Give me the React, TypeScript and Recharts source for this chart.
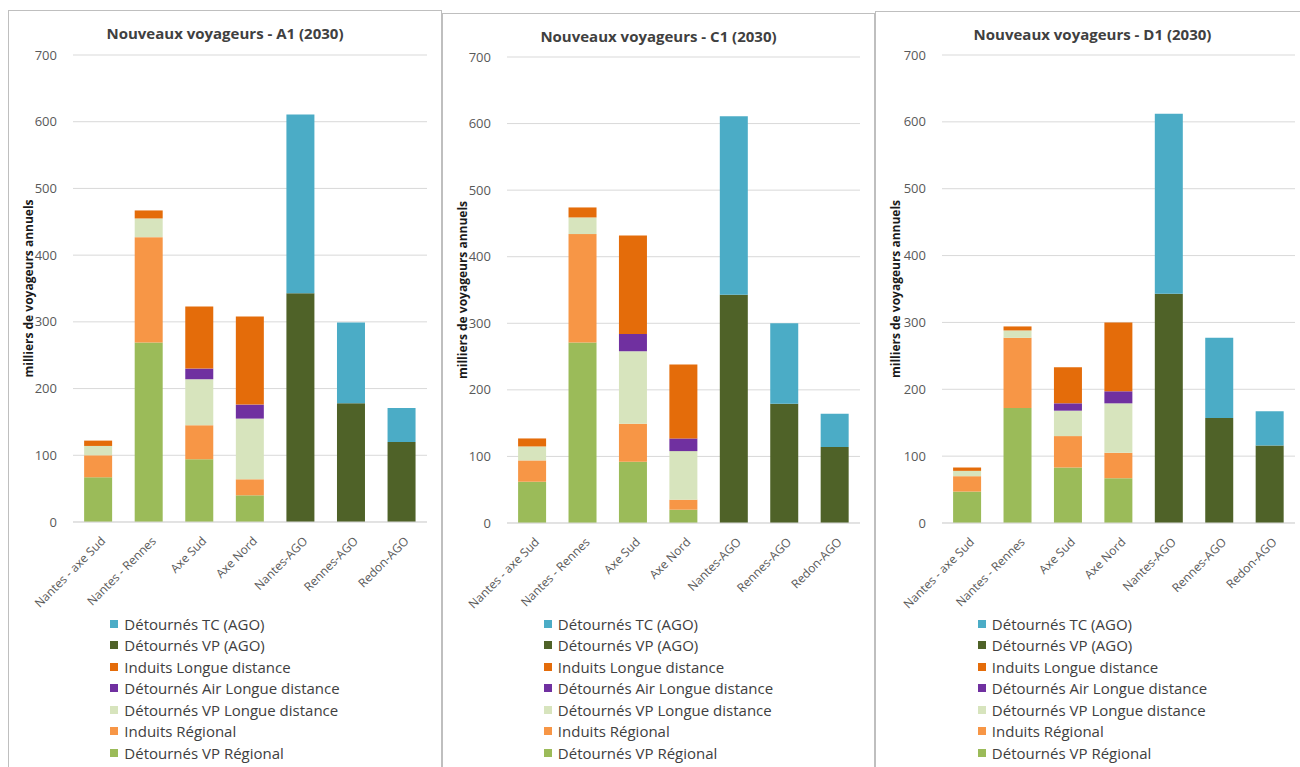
import React from 'react';
import { BarChart, Bar, XAxis, YAxis, CartesianGrid, Legend } from 'recharts';

const categories = ['Nantes - axe Sud', 'Nantes - Rennes', 'Axe Sud', 'Axe Nord', 'Nantes-AGO', 'Rennes-AGO', 'Redon-AGO'];

// stacking order, bottom to top
const seriesNames = [
  'Détournés VP Régional',
  'Induits Régional',
  'Détournés VP Longue distance',
  'Détournés Air Longue distance',
  'Induits Longue distance',
  'Détournés VP (AGO)',
  'Détournés TC (AGO)',
];
const seriesColors = ['#9BBB59', '#F79646', '#D7E4BD', '#7030A0', '#E46C0A', '#4F6228', '#4BACC6'];

const yTicks = [0, 100, 200, 300, 400, 500, 600, 700];

// rows follow seriesNames, columns follow categories (milliers de voyageurs)
const valuesA1 = [
  [67, 269, 94, 40, 0, 0, 0],
  [33, 158, 51, 24, 0, 0, 0],
  [14, 28, 69, 91, 0, 0, 0],
  [0, 0, 16, 21, 0, 0, 0],
  [8, 12, 93, 132, 0, 0, 0],
  [0, 0, 0, 0, 343, 178, 120],
  [0, 0, 0, 0, 268, 121, 51],
];
const valuesC1 = [
  [62, 271, 92, 20, 0, 0, 0],
  [32, 163, 57, 15, 0, 0, 0],
  [21, 25, 109, 73, 0, 0, 0],
  [0, 0, 26, 19, 0, 0, 0],
  [12, 15, 148, 111, 0, 0, 0],
  [0, 0, 0, 0, 343, 179, 114],
  [0, 0, 0, 0, 268, 121, 50],
];
const valuesD1 = [
  [47, 172, 83, 67, 0, 0, 0],
  [23, 105, 47, 38, 0, 0, 0],
  [8, 11, 38, 74, 0, 0, 0],
  [0, 0, 11, 18, 0, 0, 0],
  [5, 6, 54, 103, 0, 0, 0],
  [0, 0, 0, 0, 343, 157, 116],
  [0, 0, 0, 0, 269, 120, 51],
];

const FONT = '"Open Sans", sans-serif';
const PAGE_H = 767;
const LEGEND_Y = 612; // first legend row top, page coords
const LEGEND_ROW = 21.5;

const panels = [
  { title: 'Nouveaux voyageurs - A1 (2030)', values: valuesA1, left: 8, top: 10, width: 434, plotTop: 55, plotBottom: 522, plotLeft: 73, plotRight: 427 },
  { title: 'Nouveaux voyageurs - C1 (2030)', values: valuesC1, left: 442, top: 13, width: 433, plotTop: 57, plotBottom: 523, plotLeft: 507, plotRight: 860 },
  { title: 'Nouveaux voyageurs - D1 (2030)', values: valuesD1, left: 875, top: 11, width: 435, plotTop: 55, plotBottom: 523, plotLeft: 942, plotRight: 1295 },
];

const buildData = (values: number[][]) =>
  categories.map((name, i) => {
    const row: Record<string, string | number> = { name };
    values.forEach((serie, k) => {
      row['s' + k] = serie[i];
    });
    return row;
  });

const XTick = (props: any) => {
  const { x, y, payload } = props;
  return (
    <g transform={`translate(${x + 5},${y + 9})`}>
      <text x={0} y={0} dy={4} textAnchor="end" transform="rotate(-45)" fill="#595959" fontSize={12} fontFamily={FONT}>
        {payload.value}
      </text>
    </g>
  );
};

const YLabel = (props: any) => {
  const { viewBox } = props;
  const cx = viewBox.x + 25;
  const cy = viewBox.y + viewBox.height / 2;
  return (
    <text x={cx} y={cy} transform={`rotate(-90, ${cx}, ${cy})`} textAnchor="middle" fontSize={12} fontWeight="bold" fill="#1a1a1a" fontFamily={FONT}>
      milliers de voyageurs annuels
    </text>
  );
};

const LegendList = () => (
  <div style={{ textAlign: 'center' }}>
    <div style={{ display: 'inline-block', textAlign: 'left', fontFamily: FONT, fontSize: 15, color: '#404040' }}>
      {[...seriesNames].reverse().map((name, idx) => {
        const color = seriesColors[seriesNames.length - 1 - idx];
        return (
          <div key={name} style={{ display: 'flex', alignItems: 'center', height: LEGEND_ROW, whiteSpace: 'nowrap' }}>
            <span style={{ display: 'inline-block', width: 8, height: 8, background: color, marginRight: 6 }} />
            <span>{name}</span>
          </div>
        );
      })}
    </div>
  </div>
);

const Panel = ({ p }: { p: (typeof panels)[number] }) => {
  const height = PAGE_H - p.top + 6;
  const axisW = p.plotLeft - p.left;
  const marginTop = p.plotTop - p.top;
  const marginRight = p.left + p.width - p.plotRight;
  const xAxisH = 90;
  const marginBottom = height - (p.plotBottom - p.top) - xAxisH;
  const data = buildData(p.values);
  return (
    <div
      style={{
        position: 'absolute',
        left: p.left,
        top: p.top,
        width: p.width,
        height,
        border: '1px solid #BFBFBF',
        boxSizing: 'border-box',
        background: '#fff',
      }}
    >
      <div
        style={{
          position: 'absolute',
          top: 12,
          left: 0,
          width: '100%',
          textAlign: 'center',
          fontFamily: FONT,
          fontWeight: 'bold',
          fontSize: 15,
          color: '#404040',
        }}
      >
        {p.title}
      </div>
      <div style={{ position: 'absolute', left: -1, top: -1 }}>
        <BarChart
          width={p.width}
          height={height}
          data={data}
          barCategoryGap="22%"
          margin={{ top: marginTop, right: marginRight, bottom: marginBottom, left: 0 }}
        >
          <CartesianGrid vertical={false} stroke="#D9D9D9" />
          <XAxis
            dataKey="name"
            interval={0}
            height={xAxisH}
            tickLine={false}
            axisLine={{ stroke: '#D9D9D9' }}
            tick={<XTick />}
          />
          <YAxis
            width={axisW}
            domain={[0, 700]}
            ticks={yTicks}
            tickLine={false}
            axisLine={false}
            tickMargin={10}
            tick={{ fill: '#595959', fontSize: 13, fontFamily: FONT }}
            label={<YLabel />}
          />
          <Legend
            layout="horizontal"
            verticalAlign="middle"
            align="center"
            content={<LegendList />}
            wrapperStyle={{ left: 0, top: LEGEND_Y - p.top + 1, width: p.width, height: 'auto' }}
          />
          {seriesNames.map((name, k) => (
            <Bar key={name} dataKey={'s' + k} name={name} stackId="a" fill={seriesColors[k]} isAnimationActive={false} />
          ))}
        </BarChart>
      </div>
    </div>
  );
};

export default function App() {
  return (
    <div style={{ position: 'absolute', left: 0, top: 0, width: 1300, height: PAGE_H, overflow: 'hidden', background: '#fff' }}>
      {panels.map((p) => (
        <Panel key={p.title} p={p} />
      ))}
    </div>
  );
}
